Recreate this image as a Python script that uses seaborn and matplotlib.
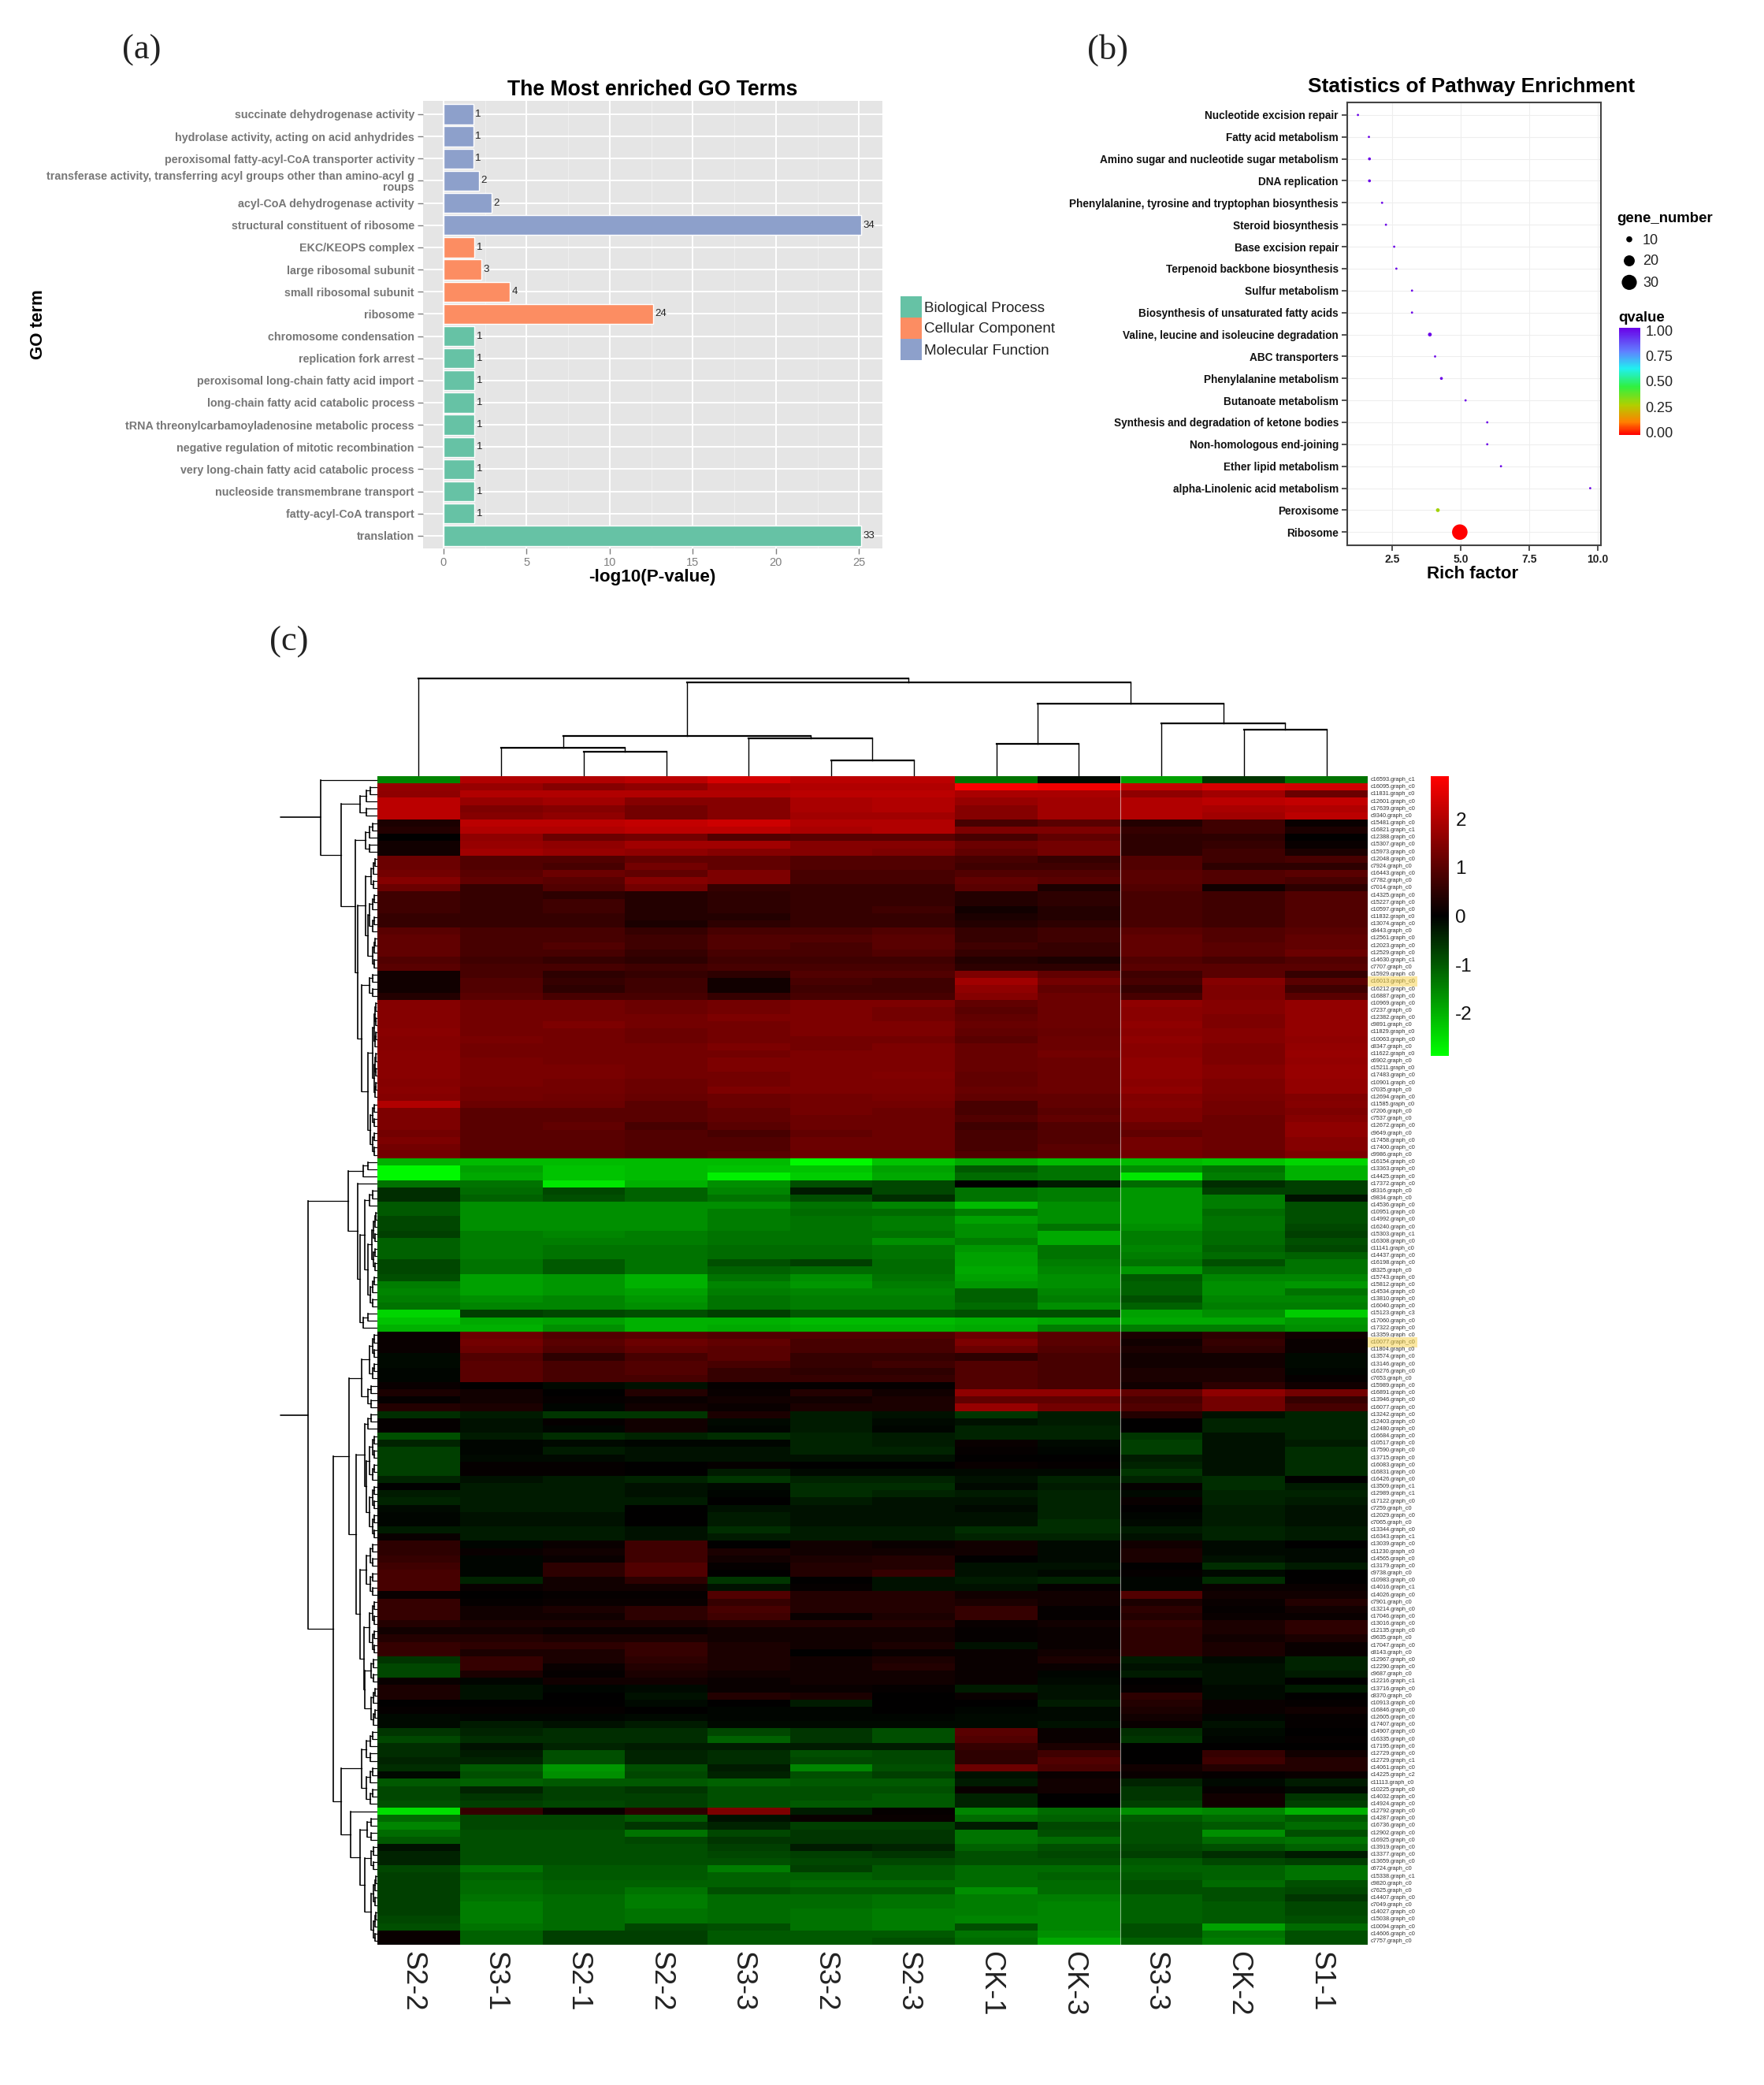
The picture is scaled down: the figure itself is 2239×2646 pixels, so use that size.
import numpy as np
import pandas as pd
import seaborn as sns
import matplotlib
matplotlib.use("Agg")
import matplotlib.pyplot as plt
from matplotlib.cm import ScalarMappable
from matplotlib.colors import LinearSegmentedColormap, Normalize
from matplotlib.transforms import ScaledTranslation

W, H = 2239, 2646

# --- panel (a) data ---
go_terms = [
    "succinate dehydrogenase activity", "hydrolase activity, acting on acid anhydrides",
    "peroxisomal fatty-acyl-CoA transporter activity",
    "transferase activity, transferring acyl groups other than amino-acyl g\nroups",
    "acyl-CoA dehydrogenase activity", "structural constituent of ribosome",
    "EKC/KEOPS complex", "large ribosomal subunit", "small ribosomal subunit", "ribosome",
    "chromosome condensation", "replication fork arrest", "peroxisomal long-chain fatty acid import",
    "long-chain fatty acid catabolic process", "tRNA threonylcarbamoyladenosine metabolic process",
    "negative regulation of mitotic recombination", "very long-chain fatty acid catabolic process",
    "nucleoside transmembrane transport", "fatty-acyl-CoA transport", "translation",
]
go_values = [1.8, 1.8, 1.8, 2.15, 2.9, 25.1, 1.87, 2.3, 4.0, 12.6,
             1.87, 1.87, 1.87, 1.87, 1.87, 1.87, 1.87, 1.87, 1.87, 25.1]
go_counts = [1, 1, 1, 2, 2, 34, 1, 3, 4, 24, 1, 1, 1, 1, 1, 1, 1, 1, 1, 33]
go_groups = ["Molecular Function"] * 6 + ["Cellular Component"] * 4 + ["Biological Process"] * 10
go_palette = {"Biological Process": "#66C2A5", "Cellular Component": "#FC8D62", "Molecular Function": "#8DA0CB"}

# --- panel (b) data ---
pathways = [
    "Nucleotide excision repair", "Fatty acid metabolism", "Amino sugar and nucleotide sugar metabolism",
    "DNA replication", "Phenylalanine, tyrosine and tryptophan biosynthesis", "Steroid biosynthesis",
    "Base excision repair", "Terpenoid backbone biosynthesis", "Sulfur metabolism",
    "Biosynthesis of unsaturated fatty acids", "Valine, leucine and isoleucine degradation",
    "ABC transporters", "Phenylalanine metabolism", "Butanoate metabolism",
    "Synthesis and degradation of ketone bodies", "Non-homologous end-joining",
    "Ether lipid metabolism", "alpha-Linolenic acid metabolism", "Peroxisome", "Ribosome",
]
rich_factor = [1.26, 1.66, 1.68, 1.68, 2.14, 2.28, 2.58, 2.66, 3.23, 3.23,
               3.88, 4.07, 4.3, 5.18, 5.97, 5.97, 6.47, 9.72, 4.17, 4.97]
gene_number = [1, 1, 2, 2, 1, 1, 1, 1, 1, 1, 3, 1, 2, 1, 1, 1, 1, 1, 3, 31]
qvalue = [1.0, 1.0, 1.0, 1.0, 1.0, 1.0, 1.0, 1.0, 1.0, 1.0,
          1.0, 1.0, 1.0, 1.0, 1.0, 1.0, 1.0, 1.0, 0.3, 0.0]
gene_sizes = {1: 4, 2: 7, 3: 12, 10: 30, 20: 100, 30: 190, 31: 200}
legend_genes = [10, 20, 30]
q_ticks = [0.0, 0.25, 0.5, 0.75, 1.0]

# --- panel (c) data ---
samples = ["S2-2", "S3-1", "S2-1", "S2-2", "S3-3", "S3-2", "S2-3", "CK-1", "CK-3", "S3-3", "CK-2", "S1-1"]
gene_ids = """c16593.graph_c1 c16095.graph_c0 c11831.graph_c0 c12601.graph_c0 c17639.graph_c0 c9340.graph_c0
c15481.graph_c0 c16821.graph_c1 c12388.graph_c0 c15307.graph_c0 c15973.graph_c0 c12048.graph_c0 c7924.graph_c0
c16443.graph_c0 c7782.graph_c0 c7014.graph_c0 c14325.graph_c0 c15227.graph_c0 c10597.graph_c0 c11832.graph_c0
c13074.graph_c0 c8443.graph_c0 c12561.graph_c0 c12023.graph_c0 c12529.graph_c0 c14630.graph_c1 c7707.graph_c0
c15929.graph_c0 c16013.graph_c0 c16212.graph_c0 c16887.graph_c0 c10969.graph_c0 c7237.graph_c0 c12382.graph_c0
c9891.graph_c0 c11829.graph_c0 c10063.graph_c0 c8347.graph_c0 c11622.graph_c0 c6902.graph_c0 c15211.graph_c0
c17483.graph_c0 c10901.graph_c0 c7035.graph_c0 c12694.graph_c0 c11585.graph_c0 c7206.graph_c0 c7537.graph_c0
c12672.graph_c0 c9649.graph_c0 c17458.graph_c0 c17400.graph_c0 c9986.graph_c0 c16154.graph_c0 c13363.graph_c0
c14425.graph_c0 c17372.graph_c0 c8316.graph_c0 c9834.graph_c0 c14536.graph_c0 c10951.graph_c0 c14992.graph_c0
c16240.graph_c0 c15303.graph_c1 c16308.graph_c0 c11141.graph_c0 c14437.graph_c0 c16198.graph_c0 c8325.graph_c0
c15743.graph_c0 c15812.graph_c0 c14534.graph_c0 c13810.graph_c0 c16040.graph_c0 c15123.graph_c3 c17060.graph_c0
c17322.graph_c0 c13359.graph_c0 c10077.graph_c0 c11804.graph_c0 c13574.graph_c0 c13146.graph_c0 c16276.graph_c0
c7653.graph_c0 c15989.graph_c0 c16891.graph_c0 c13946.graph_c0 c16077.graph_c0 c13242.graph_c0 c12403.graph_c0
c12480.graph_c0 c16684.graph_c0 c10517.graph_c0 c17590.graph_c0 c13715.graph_c0 c16083.graph_c0 c16831.graph_c0
c16426.graph_c0 c13509.graph_c1 c12989.graph_c1 c17122.graph_c0 c7259.graph_c0 c12029.graph_c0 c7065.graph_c0
c13344.graph_c0 c16343.graph_c1 c13039.graph_c0 c11230.graph_c0 c14565.graph_c0 c13179.graph_c0 c9738.graph_c0
c10983.graph_c0 c14016.graph_c1 c14026.graph_c0 c7901.graph_c0 c13214.graph_c0 c17046.graph_c0 c13016.graph_c0
c12135.graph_c0 c9635.graph_c0 c17047.graph_c0 c8143.graph_c0 c12967.graph_c0 c12290.graph_c0 c9687.graph_c0
c12216.graph_c1 c13716.graph_c0 c8370.graph_c0 c10913.graph_c0 c16846.graph_c0 c12605.graph_c0 c17407.graph_c0
c14907.graph_c0 c16335.graph_c0 c17195.graph_c0 c12729.graph_c0 c12729.graph_c1 c14061.graph_c0 c14225.graph_c2
c11113.graph_c0 c10225.graph_c0 c14032.graph_c0 c14924.graph_c0 c12792.graph_c0 c14287.graph_c0 c16736.graph_c0
c12902.graph_c0 c16925.graph_c0 c13919.graph_c0 c13377.graph_c0 c13659.graph_c0 c6724.graph_c0 c15338.graph_c1
c9820.graph_c0 c7625.graph_c0 c14407.graph_c0 c7049.graph_c0 c14027.graph_c0 c15038.graph_c0 c10094.graph_c0
c14606.graph_c0 c7757.graph_c0""".split()
highlighted = ["c16013.graph_c0", "c10077.graph_c0"]

expr_top = [
    [-1.5, 2.0, 2.0, 2.1, 2.4, 2.1, 2.1, -1.3, -0.1, -1.8, -0.6, -1.3],
    [1.7, 1.7, 1.5, 1.6, 1.9, 2.0, 2.0, 2.8, 2.7, 2.2, 2.4, 2.3],
    [1.6, 2.0, 2.0, 2.0, 2.0, 2.1, 2.1, 1.9, 1.9, 1.6, 1.8, 1.2],
    [2.1, 1.7, 1.8, 1.5, 1.5, 1.9, 2.0, 1.7, 1.8, 2.0, 2.1, 2.2],
    [2.1, 1.4, 1.5, 1.3, 1.5, 1.9, 2.0, 1.5, 1.8, 2.0, 1.9, 2.0],
    [2.1, 1.5, 1.6, 1.3, 1.5, 1.8, 1.8, 1.5, 1.8, 2.0, 1.8, 2.1],
    [0.3, 2.1, 2.1, 2.2, 2.3, 2.0, 2.0, 0.8, 1.0, 0.4, 0.7, 0.1],
    [0.4, 2.0, 2.0, 2.1, 2.1, 1.9, 2.0, 1.4, 1.4, 0.6, 0.7, 0.3],
    [0.0, 1.6, 1.2, 1.3, 0.9, 1.0, 1.0, 0.8, 1.1, 0.5, 0.5, 0.0],
    [0.2, 1.7, 1.6, 1.8, 1.8, 1.5, 1.5, 1.2, 1.3, 0.5, 0.6, 0.1],
    [0.2, 1.8, 1.7, 1.6, 1.5, 1.5, 1.4, 1.1, 1.3, 0.5, 0.7, 0.3],
    [1.2, 0.9, 0.9, 1.1, 1.1, 0.9, 0.9, 0.8, 0.6, 0.9, 0.7, 0.8],
    [1.2, 0.9, 0.8, 1.3, 1.1, 0.9, 0.9, 0.7, 0.7, 0.9, 0.5, 0.5],
    [1.3, 1.0, 1.2, 1.1, 1.4, 0.8, 0.8, 0.9, 0.9, 1.0, 0.9, 1.0],
    [1.5, 1.1, 1.0, 1.5, 1.4, 0.8, 0.8, 1.1, 1.0, 1.0, 0.9, 0.8],
    [1.2, 0.6, 0.9, 1.3, 0.6, 0.6, 0.6, 1.0, 0.3, 0.9, 0.2, 0.5],
    [0.7, 0.6, 0.5, 0.4, 0.5, 0.6, 0.6, 0.4, 0.5, 0.8, 0.7, 0.9],
    [0.7, 0.6, 0.7, 0.4, 0.5, 0.6, 0.6, 0.4, 0.5, 0.8, 0.7, 0.9],
    [0.7, 0.6, 0.7, 0.4, 0.5, 0.6, 0.7, 0.2, 0.4, 0.8, 0.7, 0.9],
    [0.6, 0.6, 0.6, 0.4, 0.4, 0.6, 0.6, 0.3, 0.4, 0.8, 0.7, 0.9],
    [0.6, 0.6, 0.6, 0.3, 0.5, 0.6, 0.6, 0.4, 0.5, 0.8, 0.7, 0.9],
    [1.0, 0.8, 0.8, 0.6, 0.8, 0.8, 0.9, 0.6, 0.7, 1.0, 0.9, 1.0],
    [1.1, 0.8, 0.8, 0.7, 0.9, 0.9, 1.0, 0.6, 0.7, 1.1, 0.9, 1.1],
    [1.1, 0.8, 0.9, 0.7, 0.9, 0.8, 1.0, 0.7, 0.6, 1.1, 1.0, 1.1],
    [1.1, 0.8, 0.8, 0.6, 0.8, 0.8, 0.9, 0.6, 0.6, 1.1, 1.0, 1.2],
    [0.9, 0.7, 0.6, 0.5, 0.7, 0.7, 0.7, 0.4, 0.3, 0.9, 0.8, 0.9],
    [1.0, 0.8, 0.8, 0.7, 0.8, 0.8, 0.8, 0.5, 0.5, 1.0, 1.0, 1.0],
    [0.2, 0.8, 0.5, 0.6, 0.5, 0.9, 0.9, 1.4, 1.1, 0.7, 1.0, 0.6],
    [0.2, 0.9, 0.6, 0.7, 0.2, 0.8, 0.7, 1.8, 1.3, 0.8, 1.5, 1.0],
    [0.2, 0.9, 0.5, 0.7, 0.2, 0.7, 0.7, 1.6, 1.1, 0.6, 1.4, 0.7],
    [0.4, 1.0, 0.8, 0.8, 0.6, 0.8, 0.8, 1.5, 1.2, 0.8, 1.4, 1.0],
    [1.5, 1.3, 1.3, 1.2, 1.3, 1.4, 1.4, 1.1, 1.2, 1.6, 1.5, 1.65],
    [1.5, 1.3, 1.3, 1.2, 1.3, 1.4, 1.3, 1.0, 1.2, 1.55, 1.5, 1.65],
    [1.5, 1.3, 1.3, 1.3, 1.4, 1.4, 1.3, 1.1, 1.2, 1.55, 1.4, 1.65],
    [1.5, 1.3, 1.4, 1.3, 1.3, 1.4, 1.4, 1.15, 1.2, 1.6, 1.4, 1.65],
    [1.55, 1.3, 1.3, 1.2, 1.3, 1.4, 1.4, 1.1, 1.15, 1.55, 1.5, 1.65],
    [1.5, 1.35, 1.3, 1.2, 1.3, 1.3, 1.3, 1.0, 1.2, 1.6, 1.5, 1.6],
    [1.5, 1.3, 1.3, 1.3, 1.4, 1.3, 1.4, 1.15, 1.2, 1.55, 1.4, 1.65],
    [1.55, 1.3, 1.3, 1.3, 1.3, 1.4, 1.4, 1.15, 1.3, 1.55, 1.4, 1.7],
    [1.55, 1.35, 1.3, 1.3, 1.4, 1.4, 1.4, 1.15, 1.2, 1.6, 1.4, 1.65],
    [1.55, 1.35, 1.35, 1.3, 1.4, 1.4, 1.4, 1.15, 1.2, 1.6, 1.5, 1.7],
    [1.55, 1.35, 1.35, 1.3, 1.3, 1.4, 1.45, 1.1, 1.2, 1.6, 1.5, 1.7],
    [1.5, 1.35, 1.3, 1.2, 1.3, 1.4, 1.4, 1.1, 1.2, 1.55, 1.4, 1.65],
    [1.55, 1.3, 1.3, 1.2, 1.4, 1.4, 1.4, 1.15, 1.2, 1.6, 1.4, 1.65],
    [1.5, 1.3, 1.25, 1.15, 1.2, 1.3, 1.35, 1.1, 1.1, 1.45, 1.35, 1.45],
    [2.0, 1.2, 1.2, 1.0, 1.2, 1.3, 1.3, 0.8, 1.1, 1.5, 1.3, 1.5],
    [1.4, 1.0, 1.0, 1.0, 1.1, 1.3, 1.2, 0.8, 1.0, 1.4, 1.3, 1.4],
    [1.4, 1.0, 1.0, 1.0, 1.1, 1.2, 1.2, 0.9, 1.1, 1.4, 1.2, 1.5],
    [1.4, 1.0, 1.1, 0.8, 1.0, 1.2, 1.2, 0.7, 0.9, 1.2, 1.2, 1.6],
    [1.3, 1.0, 1.0, 0.9, 0.8, 1.1, 1.2, 0.8, 0.9, 1.1, 1.2, 1.6],
    [1.4, 1.0, 1.0, 0.9, 0.9, 1.2, 1.2, 0.8, 0.9, 1.3, 1.2, 1.5],
    [1.3, 1.0, 1.0, 0.9, 0.9, 1.2, 1.2, 0.8, 1.0, 1.3, 1.2, 1.5],
    [1.3, 1.0, 1.0, 0.9, 1.0, 1.2, 1.2, 0.9, 1.0, 1.3, 1.2, 1.4],
]
expr_green = [
    [-2.0, -2.1, -2.1, -2.1, -2.1, -2.8, -2.2, -1.9, -2.1, -2.1, -2.2, -2.4],
    [-2.8, -1.8, -2.2, -2.1, -2.2, -2.2, -1.8, -1.0, -1.3, -1.6, -1.3, -2.0],
    [-2.8, -1.9, -2.2, -2.1, -2.7, -2.3, -1.9, -1.2, -1.3, -2.6, -1.4, -2.0],
    [-1.3, -1.3, -2.6, -2.0, -1.6, -0.9, -0.8, -0.0, -0.3, -1.2, -0.5, -0.7],
    [-0.5, -1.2, -0.8, -1.1, -1.5, -0.3, -0.8, -1.3, -1.4, -1.7, -0.7, -0.7],
    [-0.5, -1.1, -0.9, -1.1, -1.3, -0.9, -0.5, -1.3, -1.4, -1.7, -1.4, -0.2],
    [-1.0, -1.6, -1.6, -1.6, -1.6, -1.3, -1.5, -2.1, -1.6, -1.7, -1.4, -0.9],
    [-1.0, -1.6, -1.6, -1.6, -1.4, -1.2, -1.2, -1.4, -1.6, -1.7, -1.2, -0.9],
    [-0.8, -1.6, -1.6, -1.6, -1.4, -1.3, -1.4, -1.8, -1.6, -1.7, -1.3, -0.9],
    [-0.8, -1.6, -1.6, -1.6, -1.4, -1.3, -1.4, -1.6, -1.3, -1.6, -1.3, -0.8],
    [-0.7, -1.4, -1.5, -1.4, -1.3, -1.3, -1.3, -1.6, -1.9, -1.4, -1.2, -0.7],
    [-1.1, -1.4, -1.4, -1.4, -1.3, -1.3, -1.6, -1.4, -1.9, -1.4, -1.2, -0.9],
    [-1.1, -1.4, -1.3, -1.3, -1.2, -1.2, -1.3, -1.7, -1.3, -1.5, -1.1, -0.8],
    [-1.1, -1.4, -1.3, -1.3, -1.2, -1.2, -1.3, -1.8, -1.3, -1.4, -1.2, -1.1],
    [-0.8, -1.3, -1.0, -1.3, -0.9, -0.7, -1.2, -1.8, -1.4, -1.3, -0.9, -1.3],
    [-0.8, -1.3, -1.0, -1.3, -1.1, -1.2, -1.2, -1.9, -1.5, -1.7, -1.2, -1.3],
    [-0.9, -1.8, -1.7, -2.0, -1.3, -1.6, -1.3, -1.8, -1.6, -1.0, -1.5, -1.5],
    [-1.4, -1.8, -1.7, -2.0, -1.5, -1.7, -1.4, -1.7, -1.6, -1.1, -1.6, -1.7],
    [-1.5, -1.8, -1.7, -1.8, -1.4, -1.5, -1.5, -1.1, -1.5, -1.1, -1.6, -1.3],
    [-1.4, -1.6, -1.5, -1.7, -1.3, -1.4, -1.4, -1.1, -1.4, -0.9, -1.5, -1.5],
    [-1.3, -1.5, -1.5, -1.6, -1.3, -1.4, -1.4, -1.2, -1.6, -1.1, -1.4, -1.4],
    [-2.4, -0.7, -0.8, -0.9, -0.7, -1.0, -1.0, -0.9, -0.9, -1.8, -1.6, -2.3],
    [-2.2, -1.9, -1.8, -2.0, -2.0, -2.1, -2.1, -2.0, -1.9, -1.9, -1.9, -1.7],
    [-2.0, -2.0, -1.6, -2.0, -1.9, -2.0, -2.0, -1.9, -1.4, -1.4, -1.4, -1.6],
]
expr_mixed = [
    [0.1, 1.2, 0.9, 1.0, 0.9, 0.9, 0.9, 1.2, 1.0, 0.3, 0.5, 0.2],
    [0.1, 1.3, 1.0, 1.2, 1.1, 0.8, 0.8, 1.4, 1.0, 0.2, 0.6, 0.1],
    [0.1, 1.2, 0.9, 1.1, 1.0, 0.8, 0.8, 1.2, 0.9, 0.3, 0.5, 0.1],
    [-0.1, 0.9, 0.5, 0.8, 1.0, 0.6, 0.6, 0.5, 0.8, 0.2, 0.2, -0.1],
    [-0.1, 1.0, 0.8, 0.9, 0.8, 0.6, 0.7, 0.9, 0.8, 0.2, 0.2, -0.1],
    [-0.05, 1.0, 0.8, 0.9, 0.6, 0.5, 0.5, 0.9, 0.8, 0.3, 0.3, -0.05],
    [-0.05, 1.0, 0.8, 0.8, 0.6, 0.6, 0.6, 0.9, 0.8, 0.3, 0.3, 0.05],
    [0.1, 0.0, -0.1, -0.2, 0.05, 0.05, 0.05, 0.9, 0.8, 0.2, 0.5, 0.2],
    [0.3, 0.2, 0.0, 0.4, 0.1, 0.4, 0.2, 1.6, 1.6, 1.1, 1.6, 1.3],
    [0.05, 0.2, 0.05, 0.1, 0.2, 0.2, 0.3, 1.1, 1.1, 0.8, 1.3, 0.6],
    [0.4, 0.3, -0.05, 0.2, 0.1, 0.3, 0.3, 1.7, 1.3, 0.9, 1.3, 0.8],
    [-0.5, -0.3, -0.6, -0.6, 0.3, -0.3, -0.2, -0.6, -0.3, 0.4, -0.2, -0.4],
    [0.05, -0.2, 0.05, 0.2, -0.1, -0.3, -0.1, -0.2, -0.3, 0.0, -0.4, -0.4],
    [0.05, -0.2, -0.05, 0.2, -0.05, -0.3, -0.05, -0.4, -0.4, 0.0, -0.4, -0.4],
    [-0.9, -0.3, -0.5, -0.4, -0.5, -0.4, -0.3, -0.4, -0.4, -0.6, -0.2, -0.4],
    [-0.4, -0.05, -0.1, -0.05, -0.05, -0.4, -0.3, 0.1, -0.1, -0.7, -0.2, -0.3],
    [-0.7, -0.05, -0.3, -0.2, -0.2, -0.4, -0.4, 0.05, -0.05, -0.7, -0.2, -0.5],
    [-0.7, -0.1, -0.1, -0.2, -0.2, -0.2, -0.2, 0.0, 0.0, -0.3, -0.2, -0.5],
    [-0.7, 0.05, 0.05, 0.0, 0.05, 0.0, 0.0, 0.1, 0.05, -0.4, -0.2, -0.5],
    [-0.7, 0.05, 0.05, 0.0, -0.3, -0.1, -0.1, -0.1, -0.1, -0.6, -0.2, -0.5],
    [-0.4, -0.2, -0.3, -0.4, -0.6, -0.4, -0.4, -0.2, -0.4, -0.4, -0.5, 0.0],
    [0.0, -0.3, -0.3, -0.2, -0.1, -0.5, -0.5, -0.1, -0.3, 0.05, -0.5, -0.3],
    [-0.3, -0.3, -0.3, -0.2, -0.05, -0.5, -0.4, -0.3, -0.4, -0.1, -0.4, -0.4],
    [-0.4, -0.3, -0.3, -0.3, 0.0, -0.3, -0.2, -0.2, -0.4, 0.1, -0.4, -0.3],
    [-0.1, -0.3, -0.3, 0.0, -0.2, -0.2, -0.2, -0.1, -0.4, 0.0, -0.3, -0.2],
    [-0.05, -0.2, -0.2, 0.0, -0.3, -0.2, -0.2, -0.2, -0.4, -0.05, -0.3, -0.2],
    [-0.05, -0.2, -0.2, 0.0, -0.3, -0.2, -0.2, -0.2, -0.5, -0.1, -0.3, -0.2],
    [-0.3, -0.3, -0.3, -0.2, -0.5, -0.3, -0.3, -0.5, -0.5, -0.3, -0.4, -0.3],
    [0.1, -0.3, -0.3, -0.2, -0.3, -0.3, -0.3, -0.4, -0.4, -0.2, -0.4, -0.3],
    [0.5, -0.05, 0.1, 0.7, 0.0, 0.2, 0.1, 0.2, -0.1, 0.2, -0.1, 0.0],
    [0.5, 0.1, 0.2, 0.7, 0.3, 0.2, 0.2, 0.2, -0.1, 0.3, -0.1, -0.1],
    [0.6, -0.05, 0.1, 0.7, 0.2, 0.3, 0.4, 0.0, -0.1, 0.3, -0.2, -0.1],
    [0.7, -0.05, 0.5, 0.9, 0.05, 0.4, 0.4, -0.2, -0.2, 0.0, -0.5, -0.3],
    [0.8, -0.05, 0.5, 0.9, 0.0, 0.4, 0.6, -0.2, -0.1, 0.05, -0.1, 0.0],
    [0.8, -0.4, 0.2, 0.5, -0.6, 0.0, -0.2, -0.3, -0.4, -0.05, -0.5, 0.0],
    [0.8, 0.1, 0.2, 0.2, -0.2, 0.05, -0.2, -0.2, 0.05, -0.05, 0.1, 0.1],
    [0.1, 0.0, 0.05, 0.05, 0.9, 0.4, 0.4, 0.2, 0.2, 0.9, 0.2, 0.2],
    [0.6, 0.05, 0.1, 0.1, 0.6, 0.4, 0.4, 0.3, 0.2, 0.3, 0.1, 0.4],
    [0.6, 0.2, 0.3, 0.5, 0.8, 0.4, 0.4, 0.6, 0.05, 0.5, 0.05, 0.2],
    [0.6, 0.2, 0.2, 0.5, 0.7, 0.1, 0.3, 0.6, 0.05, 0.4, 0.1, 0.1],
    [0.4, 0.3, 0.3, 0.3, 0.4, 0.4, 0.4, 0.1, 0.2, 0.6, 0.3, 0.5],
    [0.2, 0.2, 0.1, 0.1, 0.2, 0.2, 0.2, 0.05, 0.1, 0.5, 0.3, 0.5],
    [0.4, 0.4, 0.3, 0.3, 0.2, 0.2, 0.2, 0.05, 0.1, 0.5, 0.2, 0.3],
    [0.6, 0.5, 0.5, 0.6, 0.3, 0.2, 0.3, -0.2, 0.1, 0.5, 0.3, 0.1],
    [0.6, 0.3, 0.3, 0.6, 0.3, 0.0, 0.1, 0.1, 0.2, 0.5, 0.3, 0.1],
    [-0.6, 0.6, 0.3, 0.5, 0.3, 0.2, 0.3, 0.1, 0.3, -0.3, -0.1, -0.4],
    [-0.8, 0.6, 0.1, 0.4, 0.3, 0.2, 0.4, 0.1, 0.1, -0.2, -0.2, -0.4],
    [-0.8, 0.3, 0.05, 0.3, 0.2, 0.2, 0.2, 0.1, -0.05, -0.3, -0.2, -0.3],
    [0.1, -0.05, 0.2, 0.2, 0.1, 0.2, 0.2, 0.1, -0.1, 0.0, -0.2, 0.0],
    [0.3, -0.2, -0.05, -0.1, 0.1, 0.1, 0.05, -0.3, -0.2, 0.05, -0.1, -0.3],
    [0.3, -0.2, 0.0, -0.2, 0.4, 0.3, 0.0, 0.1, -0.2, 0.5, -0.1, 0.0],
    [0.0, 0.0, 0.0, -0.1, 0.0, -0.3, 0.0, 0.0, -0.3, 0.4, 0.1, 0.05],
    [0.05, 0.05, 0.05, 0.0, -0.05, -0.05, 0.0, -0.05, -0.1, 0.3, 0.1, 0.2],
    [-0.1, -0.05, -0.05, -0.1, -0.05, -0.05, -0.05, -0.1, -0.1, 0.2, -0.05, 0.05],
    [-0.1, -0.3, -0.2, -0.3, -0.1, -0.1, -0.1, -0.1, -0.2, 0.1, -0.2, 0.05],
]
expr_bottom = [
    [-0.6, -0.4, -0.5, -0.5, -0.8, -0.6, -0.9, 1.0, 0.1, -0.5, -0.1, 0.0],
    [-0.8, -0.5, -0.5, -0.5, -1.1, -0.6, -0.9, 0.9, 0.1, -0.6, -0.05, 0.05],
    [-0.5, -0.2, -0.4, -0.3, -0.3, -0.3, -0.3, 0.6, 0.3, 0.0, 0.0, 0.0],
    [-0.5, -0.3, -0.9, -0.4, -0.5, -0.9, -0.8, 0.5, 0.7, 0.0, 0.6, 0.2],
    [-0.4, -0.4, -0.9, -0.4, -0.5, -0.8, -0.8, 0.5, 0.9, 0.0, 0.7, 0.4],
    [-0.5, -1.0, -1.7, -0.9, -0.3, -1.5, -0.9, 1.2, 0.8, 0.2, 0.4, 0.4],
    [-0.1, -0.9, -1.6, -0.8, -0.4, -0.9, -0.7, -0.2, 0.1, 0.1, 0.05, 0.1],
    [-1.0, -1.1, -1.0, -1.0, -1.1, -1.0, -1.0, -0.3, 0.2, -0.4, -0.1, -0.3],
    [-0.8, -0.4, -0.7, -0.6, -0.9, -0.9, -0.9, 0.1, 0.2, -0.6, 0.05, -0.1],
    [-0.8, -0.6, -0.7, -0.7, -0.9, -0.9, -1.0, -0.4, 0.0, -0.6, 0.2, -0.6],
    [-0.9, -0.7, -0.8, -0.7, -0.9, -1.0, -1.0, -0.4, 0.0, -0.7, 0.2, -0.7],
    [-2.5, 0.6, 0.1, 0.5, 1.4, -0.3, 0.05, -1.5, -1.2, -1.6, -1.5, -2.0],
    [-1.2, -0.8, -0.8, -1.0, -0.2, 0.1, 0.1, -1.2, -1.1, -1.0, -1.2, -1.0],
    [-1.5, -0.8, -0.8, -0.6, -0.4, -0.7, -0.7, -0.3, -0.8, -0.9, -1.0, -1.2],
    [-1.2, -0.9, -0.9, -1.3, -0.8, -0.6, -0.6, -1.3, -0.9, -0.9, -1.6, -0.9],
    [-1.0, -0.9, -0.9, -0.8, -0.6, -0.6, -0.6, -1.3, -1.2, -0.9, -1.2, -1.3],
    [-0.2, -0.9, -0.9, -0.9, -0.7, -0.3, -0.4, -1.1, -0.9, -0.8, -0.9, -1.1],
    [-0.4, -0.9, -0.9, -0.9, -0.8, -0.7, -0.6, -0.9, -0.8, -0.7, -0.5, -0.3],
    [-0.4, -0.9, -0.9, -0.9, -0.9, -0.8, -0.8, -0.9, -0.9, -1.0, -0.8, -0.7],
    [-0.8, -1.3, -1.0, -1.0, -1.4, -0.7, -1.0, -1.2, -1.2, -1.1, -1.1, -1.3],
    [-0.7, -1.1, -1.0, -1.0, -1.1, -1.1, -1.0, -1.2, -1.1, -1.0, -1.1, -1.3],
    [-0.7, -1.2, -1.1, -1.1, -1.1, -1.2, -1.2, -1.2, -1.2, -0.9, -1.2, -0.9],
    [-0.7, -1.2, -1.1, -1.3, -0.9, -1.0, -1.0, -1.6, -1.2, -0.9, -0.9, -0.8],
    [-0.7, -1.3, -1.2, -1.4, -1.2, -1.2, -1.3, -1.4, -1.4, -1.1, -0.9, -0.6],
    [-0.7, -1.4, -1.2, -1.4, -1.2, -1.2, -1.3, -1.4, -1.5, -1.1, -1.0, -0.8],
    [-0.7, -1.4, -1.2, -1.3, -1.2, -1.3, -1.4, -1.4, -1.5, -1.1, -1.0, -0.8],
    [-0.8, -1.4, -1.2, -1.3, -1.2, -1.3, -1.4, -1.5, -1.5, -1.1, -1.0, -0.9],
    [-0.9, -1.3, -1.2, -0.8, -0.9, -1.3, -1.4, -0.9, -1.5, -0.9, -1.8, -1.2],
    [0.1, -1.1, -0.7, -0.7, -1.0, -1.0, -1.0, -1.3, -1.6, -0.9, -1.3, -0.9],
    [0.1, -1.1, -0.7, -0.7, -1.0, -1.0, -0.9, -1.2, -1.9, -1.1, -1.4, -0.9],
]
scale_limit = 2.88
scale_ticks = [-2, -1, 0, 1, 2]


# dendrogram nodes are (height, child, child); leaves are column or row numbers
def group(a, b, h):
    # tight sub-cluster of neighbouring rows
    if a == b:
        return a
    mid = (a + b) // 2
    return (max(h, 2.5), group(a, mid, h * 0.65), group(mid + 1, b, h * 0.65))


col_tree = (124, 0, (119, (51, (36, 1, (31, 2, 3)), (48, 4, (20, 5, 6))),
                     (92, (41, 7, 8), (67, 9, (59, 10, 11)))))
tree_a = (72, 0, (46, group(1, 5, 22), (28, group(6, 10, 15), (25,
          (15, group(11, 15, 8), (12, group(16, 21, 10), group(22, 26, 6))),
          (20, group(27, 30, 10), (12, group(31, 44, 6), group(45, 52, 9)))))))
tree_b = (37, group(53, 55, 18), (25, 56, (22, (16, group(57, 59, 10),
          (12, group(60, 68, 7), group(69, 73, 9))), group(74, 76, 18))))
tree_c = (56, (36, (20, group(77, 83, 10), group(84, 87, 12)),
               (27, (16, group(88, 90, 12), (14, group(91, 97, 10), group(98, 105, 10))),
                (22, group(106, 113, 14), (17, group(114, 121, 10),
                 (16, group(122, 125, 8), group(126, 131, 8)))))),
          (46, (20, group(132, 136, 14), group(137, 142, 14)),
           (34, 143, (22, group(144, 147, 13), (16, group(148, 151, 8), group(152, 161, 8))))))
tree_bc = (88, tree_b, tree_c)


def draw_tree(ax, node, vertical):
    # returns leaf-axis position and height of the node
    if not isinstance(node, tuple):
        return node + 0.5, 0
    h = node[0]
    kids = [draw_tree(ax, k, vertical) for k in node[1:]]
    for pos, kh in kids:
        xs, ys = [pos, pos], [kh, h]
        if vertical:
            ax.plot(xs, ys, color="black", lw=1.0, solid_capstyle="projecting")
        else:
            ax.plot(ys, xs, color="black", lw=0.9, solid_capstyle="projecting")
    a, b = kids[0][0], kids[-1][0]
    if vertical:
        ax.plot([a, b], [h, h], color="black", lw=1.6, solid_capstyle="projecting")
    else:
        ax.plot([h, h], [a, b], color="black", lw=1.2, solid_capstyle="projecting")
    return (a + b) / 2, h


def ax_px(x0, y0, x1, y1):
    return fig.add_axes([x0 / W, 1 - y1 / H, (x1 - x0) / W, (y1 - y0) / H])


def text_px(x, y, s, **kw):
    fig.text(x / W, 1 - y / H, s, **kw)


sns.set_theme(style="white")
plt.rcParams["font.family"] = ["Liberation Sans", "DejaVu Sans"]
plt.rcParams["axes.unicode_minus"] = False

fig = plt.figure(figsize=(W / 100, H / 100), dpi=100, facecolor="white")

for x, y, s in [(180, 64, "(a)"), (1406, 64, "(b)"), (367, 815, "(c)")]:
    text_px(x, y, s, family="Liberation Serif", fontsize=32, ha="center", va="center", color="#222222")

# --- (a) GO terms bar chart ---
ax_a = ax_px(537, 128, 1120, 696)
go_df = pd.DataFrame({"term": go_terms, "value": go_values, "group": go_groups})
ax_a.set_facecolor("#E5E5E5")
sns.barplot(data=go_df, y="term", x="value", hue="group", dodge=False, width=0.9, saturation=1,
            palette=go_palette, legend=False, ax=ax_a, zorder=3)
ax_a.set_xlim(-1.22, 26.4)
ax_a.set_ylim(19.57, -0.6)
ax_a.set_xticks([0, 5, 10, 15, 20, 25])
ax_a.set_xticks([2.5, 7.5, 12.5, 17.5, 22.5], minor=True)
ax_a.grid(True, which="major", color="white", lw=1.4, zorder=1)
ax_a.grid(True, which="minor", axis="x", color="#F2F2F2", lw=0.6, zorder=1)
ax_a.set_axisbelow(True)
ax_a.tick_params(axis="both", which="major", length=5, width=1, color="#7F7F7F", left=True, bottom=True, pad=3)
ax_a.tick_params(axis="x", labelsize=10.5, labelcolor="#7F7F7F")
ax_a.tick_params(axis="y", labelsize=10.3, labelcolor="#777777")
for lab in ax_a.get_yticklabels():
    lab.set_fontweight("bold")
    lab.set_linespacing(1.05)
for i, (v, c) in enumerate(zip(go_values, go_counts)):
    ax_a.text(v + 0.12, i, str(c), va="center", ha="left", fontsize=9.5, color="#222222")
sns.despine(ax=ax_a, left=True, bottom=True)
ax_a.set_xlabel("")
ax_a.set_ylabel("")
text_px(828, 114, "The Most enriched GO Terms", fontsize=19.2, fontweight="bold", ha="center", va="center", color="black")
text_px(828, 733, "-log10(P-value)", fontsize=16.2, fontweight="bold", ha="center", va="center", color="black")
text_px(48, 412, "GO term", fontsize=16, fontweight="bold", rotation=90, ha="center", va="center", color="black")

# legend for (a)
for i, name in enumerate(["Biological Process", "Cellular Component", "Molecular Function"]):
    fig.add_artist(plt.Rectangle((1143 / W, 1 - (376 + 27 * (i + 1)) / H), 27 / W, 26.5 / H,
                                 transform=fig.transFigure, facecolor=go_palette[name], edgecolor="none"))
    text_px(1173, 391 + 27 * i, name, fontsize=13.6, ha="left", va="center", color="#222222")

# --- (b) pathway bubble chart ---
rainbow = LinearSegmentedColormap.from_list("q_rainbow", [
    (0.0, "#FF0000"), (0.12, "#FF8000"), (0.28, "#B0D000"), (0.45, "#30F040"),
    (0.62, "#20F0F0"), (0.78, "#6080FF"), (1.0, "#6A00E8")])
ax_b = ax_px(1710, 130, 2032, 692)
path_df = pd.DataFrame({"pathway": pathways, "rich": rich_factor, "genes": gene_number, "q": qvalue})
sns.scatterplot(data=path_df, x="rich", y="pathway", size="genes", sizes=gene_sizes, hue="q", hue_norm=(0, 1),
                palette=rainbow, legend=False, linewidth=0, ax=ax_b, zorder=3)
ax_b.set_xlim(0.87, 10.11)
ax_b.set_ylim(19.6, -0.57)
ax_b.set_xticks([2.5, 5.0, 7.5, 10.0])
ax_b.set_xticklabels(["2.5", "5.0", "7.5", "10.0"])
ax_b.grid(True, color="#EEEEEE", lw=0.8)
ax_b.set_axisbelow(True)
ax_b.tick_params(axis="both", length=5, width=1.2, color="#333333", left=True, bottom=True, pad=3)
ax_b.tick_params(axis="x", labelsize=10, labelcolor="#222222")
ax_b.tick_params(axis="y", labelsize=9.8, labelcolor="#111111")
for lab in ax_b.get_xticklabels() + ax_b.get_yticklabels():
    lab.set_fontweight("bold")
for sp in ax_b.spines.values():
    sp.set_visible(True)
    sp.set_color("#444444")
    sp.set_linewidth(1.5)
ax_b.set_xlabel("")
ax_b.set_ylabel("")
text_px(1868, 110, "Statistics of Pathway Enrichment", fontsize=18.9, fontweight="bold", ha="center", va="center", color="black")
text_px(1869, 728, "Rich factor", fontsize=16, fontweight="bold", ha="center", va="center", color="black")

text_px(2052, 277, "gene_number", fontsize=13.4, fontweight="bold", ha="left", va="center", color="black")
ax_sizes = ax_px(2054, 290, 2082, 372)
ax_sizes.axis("off")
sns.scatterplot(x=[0, 0, 0], y=legend_genes, size=legend_genes, sizes=gene_sizes, color="black", linewidth=0,
                legend=False, ax=ax_sizes)
ax_sizes.set_xlim(-1, 1)
ax_sizes.set_ylim(35, 5)
for y, g in zip([305, 332, 359], legend_genes):
    text_px(2085, y, str(g), fontsize=13, ha="left", va="center", color="#222222")

text_px(2054, 404, "qvalue", fontsize=13.4, fontweight="bold", ha="left", va="center", color="black")
cax_q = ax_px(2054.5, 416, 2081.7, 552)
cb_q = fig.colorbar(ScalarMappable(Normalize(-0.03, 1.03), rainbow), cax=cax_q)
cb_q.outline.set_visible(False)
cb_q.set_ticks(q_ticks)
cb_q.set_ticklabels(["0.00", "0.25", "0.50", "0.75", "1.00"])
cb_q.ax.tick_params(length=5, width=1, color="white", direction="in", labelsize=13, labelcolor="#222222", pad=5, right=True)

# --- (c) clustered heatmap ---
expr = np.array(expr_top + expr_green + expr_mixed + expr_bottom)
green_black_red = LinearSegmentedColormap.from_list("gbr", ["#00FF00", "#000000", "#FF0000"])
ax_h = ax_px(479, 985, 1736, 2468)
cax_h = ax_px(1816, 985, 1839, 1340)
sns.heatmap(pd.DataFrame(expr, index=gene_ids), ax=ax_h, cbar_ax=cax_h, cmap=green_black_red,
            vmin=-scale_limit, vmax=scale_limit, xticklabels=samples, yticklabels=gene_ids,
            cbar_kws={"ticks": scale_ticks})
ax_h.axvline(9, color="white", lw=0.7, alpha=0.6)
ax_h.tick_params(axis="both", length=0)
ax_h.tick_params(axis="y", left=False, labelleft=False, labelright=True, labelsize=5.3, labelcolor="#333333", pad=2.5)
ax_h.tick_params(axis="x", labelsize=26, labelcolor="#222222", pad=6)
for lab in ax_h.get_yticklabels():
    lab.set_rotation(0)
    lab.set_va("center")
    if lab.get_text() in highlighted:
        lab.set_color("#9A8A3A")
        lab.set_bbox(dict(facecolor="#FBE7A1", edgecolor="none", pad=2.2))
for lab in ax_h.get_xticklabels():
    lab.set_rotation(270)
    lab.set_ha("center")
    lab.set_va("top")
    lab.set_transform(lab.get_transform() + ScaledTranslation(-0.07, 0, fig.dpi_scale_trans))
cax_h.tick_params(length=0, labelsize=17.5, labelcolor="#111111", pad=6)
ax_h.collections[0].colorbar.outline.set_visible(False)

ax_top = ax_px(479, 855, 1736, 985)
ax_top.axis("off")
ax_top.set_xlim(0, 12)
ax_top.set_ylim(0, 130)
draw_tree(ax_top, col_tree, True)

ax_left = ax_px(355, 985, 479, 2468)
ax_left.axis("off")
ax_left.set_xlim(124, 0)
ax_left.set_ylim(162, 0)
pos_a, h_a = draw_tree(ax_left, tree_a, False)
pos_bc, h_bc = draw_tree(ax_left, tree_bc, False)
ax_left.plot([123, h_a], [pos_a, pos_a], color="black", lw=1.2)
ax_left.plot([123, h_bc], [pos_bc, pos_bc], color="black", lw=1.2)

fig.savefig("out.png", dpi=100, facecolor="white")
